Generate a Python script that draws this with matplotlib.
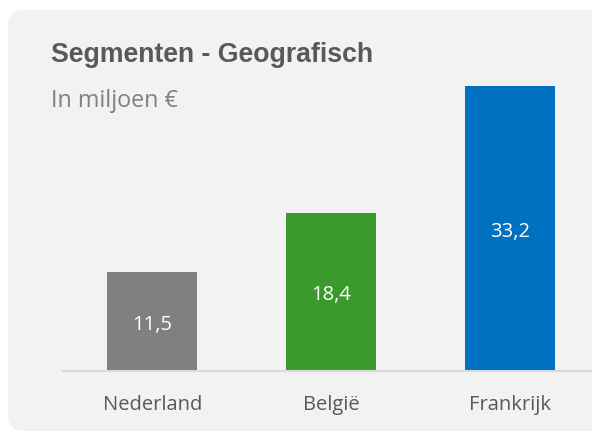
import matplotlib.pyplot as plt
from matplotlib.patches import FancyBboxPatch

# data
regions = ['Nederland', 'België', 'Frankrijk']
revenue = [11.5, 18.4, 33.2]
bar_colors = ['#808080', '#3a9a2c', '#0070c0']

W, H = 592, 433
fig = plt.figure(figsize=(W / 100, H / 100), dpi=100)
fig.patch.set_facecolor('white')

# rounded light panel behind the chart
panel = FancyBboxPatch((8, 2), 640, 421, boxstyle='round,pad=0,rounding_size=16',
                       transform=None, facecolor='#f2f2f2', edgecolor='none', zorder=0)
fig.patches.append(panel)

# axes in pixel terms: x from 63 to 599, baseline at y=371, top ~ 86
left, right = 63, 599
bottom, top = H - 371, H - 86
ax = fig.add_axes([left / W, bottom / H, (right - left) / W, (top - bottom) / H])
ax.set_zorder(2)
ax.patch.set_alpha(0)

x = range(len(regions))
bars = ax.bar(x, revenue, width=0.504, color=bar_colors, zorder=2)
ax.set_xlim(-0.5, 2.5)
ax.set_ylim(0, max(revenue))

for b, v in zip(bars, revenue):
    ax.annotate(f'{v:.1f}'.replace('.', ','), (b.get_x() + b.get_width() / 2, v / 2),
                xytext=(0, -2.5), textcoords='offset points',
                ha='center', va='center', color='white', fontsize=14.5, family='Open Sans')

for s in ['top', 'right', 'left']:
    ax.spines[s].set_visible(False)
ax.spines['bottom'].set_color('#d9d9d9')
ax.spines['bottom'].set_linewidth(1.5)
ax.set_yticks([])
ax.set_xticks(list(x))
ax.set_xticklabels(regions, family='Open Sans', fontsize=14.5, color='#595959')
ax.tick_params(axis='x', length=0, pad=17)

fig.text(51 / W, 1 - 55 / H, 'Segmenten - Geografisch', fontsize=19.2, fontweight='bold',
         family='Liberation Sans', color='#595959', va='center', ha='left', zorder=3)
fig.text(51 / W, 1 - 101 / H, 'In miljoen €', fontsize=16.8, family='Open Sans',
         color='#808080', va='center', ha='left', zorder=3)

fig.savefig('out.png', dpi=100)
